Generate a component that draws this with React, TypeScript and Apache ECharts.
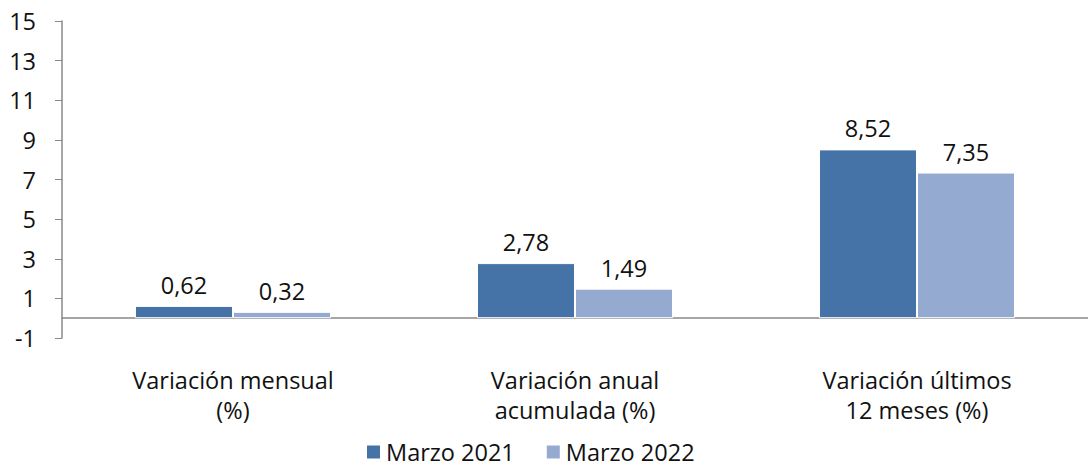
import React, { useEffect, useRef } from "react";
import * as echarts from "echarts";

const categories = ["Variación mensual\n(%)", "Variación anual\nacumulada (%)", "Variación últimos\n12 meses (%)"];
const seriesNames = ["Marzo 2021", "Marzo 2022"];
const marzo2021 = [0.62, 2.78, 8.52];
const marzo2022 = [0.32, 1.49, 7.35];
const colors = ["#4573A7", "#95AAD0"];

const FONT = "'Open Sans', 'Noto Sans', sans-serif";
const FS = 23.5;

export default function App() {
  const ref = useRef<HTMLDivElement>(null);
  useEffect(() => {
    if (!ref.current) return;
    const chart = echarts.init(ref.current, null, { renderer: "svg" });
    const fmt = (p: any) => Number(p.value).toFixed(2).replace(".", ",");
    const mk = (name: string, data: number[], color: string) => ({
      name,
      type: "bar",
      data,
      barWidth: 98,
      barGap: "0%",
      itemStyle: { color, borderColor: "#ffffff", borderWidth: 1 },
      label: {
        show: true,
        position: "top",
        distance: 9,
        formatter: fmt,
        color: "#111",
        fontSize: FS,
        fontFamily: FONT,
      },
    });
    chart.setOption({
      animation: false,
      textStyle: { fontFamily: FONT },
      grid: { left: 62, width: 1029, top: 21, height: 317 },
      legend: {
        top: 440,
        left: 365,
        padding: 0,
        itemWidth: 15,
        itemHeight: 15,
        itemGap: 30,
        icon: "rect",
        textStyle: { fontSize: FS, lineHeight: 24, color: "#111", fontFamily: FONT },
        data: seriesNames,
      },
      xAxis: {
        type: "category",
        data: categories,
        axisLine: { show: true, onZero: true, lineStyle: { color: "#888", width: 1.5 } },
        axisTick: { show: false },
        axisLabel: {
          interval: 0,
          margin: 27,
          fontSize: FS,
          lineHeight: 30,
          color: "#111",
          fontFamily: FONT,
        },
      },
      yAxis: {
        type: "value",
        min: -1,
        max: 15,
        interval: 2,
        splitLine: { show: false },
        axisLine: { show: true, lineStyle: { color: "#888", width: 1.5 } },
        axisTick: { show: true, length: 7, lineStyle: { color: "#888" } },
        axisLabel: { fontSize: FS, color: "#111", margin: 26, fontFamily: FONT },
      },
      series: [
        mk(seriesNames[0], marzo2021, colors[0]),
        mk(seriesNames[1], marzo2022, colors[1]),
      ],
    });
    return () => chart.dispose();
  }, []);
  return (
    <div
      ref={ref}
      style={{ position: "fixed", left: 0, top: 0, width: 1088, height: 468, background: "#fff" }}
    />
  );
}
